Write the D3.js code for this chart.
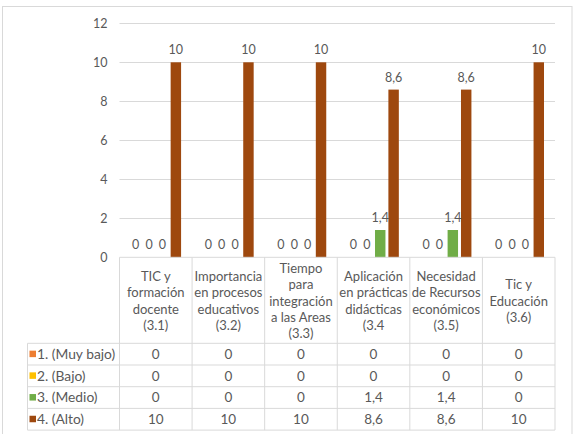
<!DOCTYPE html>
<html>
<head>
<meta charset="utf-8">
<script src="https://cdn.jsdelivr.net/npm/d3@7"></script>
<style>
  html, body { margin: 0; padding: 0; background: #fff; }
  svg { display: block; }
  text { font-family: Lato, "Open Sans", sans-serif; fill: #595959; }
</style>
</head>
<body>
<svg id="chart" width="576" height="434"></svg>
<script>
const categories = [
  "TIC y\nformación\ndocente\n(3.1)",
  "Importancia\nen procesos\neducativos\n(3.2)",
  "Tiempo\npara\nintegración\na las Areas\n(3.3)",
  "Aplicación\nen prácticas\ndidácticas\n(3.4",
  "Necesidad\nde Recursos\neconómicos\n(3.5)",
  "Tic y\nEducación\n(3.6)"
];
const seriesNames = ["1. (Muy bajo)", "2. (Bajo)", "3. (Medio)", "4. (Alto)"];
const muyBajo = [0, 0, 0, 0, 0, 0];
const bajo = [0, 0, 0, 0, 0, 0];
const medio = [0, 0, 0, 1.4, 1.4, 0];
const alto = [10, 10, 10, 8.6, 8.6, 10];
const yTicks = [0, 2, 4, 6, 8, 10, 12];
const colors = ["#ED7D31", "#FFC000", "#70AD47", "#9E480E"];

const seriesValues = [muyBajo, bajo, medio, alto];
const fmt = v => String(v).replace(".", ",");

const svg = d3.select("#chart");

// outer frame
svg.append("rect").attr("x", 2.5).attr("y", 6.5).attr("width", 569.5).attr("height", 440)
  .attr("fill", "none").attr("stroke", "#d9d9d9").attr("stroke-width", 1);

const plotL = 119.5, plotR = 555, plotT = 23.3, plotB = 257.3;
const tableL = 27.5;
const headerB = 343.3;
const rowH = 21.7;

const x0 = d3.scaleBand().domain(categories.map((c, i) => i)).range([plotL, plotR]).paddingInner(0).paddingOuter(0);
const groupPad = 11;
const x1 = d3.scaleBand().domain(seriesNames).range([groupPad, x0.bandwidth() - groupPad]).paddingInner(0.22).paddingOuter(0);
const y = d3.scaleLinear().domain([0, 12]).range([plotB, plotT]);

// gridlines
svg.append("g").selectAll("line").data(yTicks.filter(t => t > 0)).join("line")
  .attr("x1", plotL).attr("x2", plotR)
  .attr("y1", d => Math.round(y(d)) + 0.5).attr("y2", d => Math.round(y(d)) + 0.5)
  .attr("stroke", "#d9d9d9").attr("stroke-width", 1);

// y axis labels
const yAxis = d3.axisLeft(y).tickValues(yTicks).tickSize(0).tickPadding(12).tickFormat(d => d);
const yg = svg.append("g").attr("transform", `translate(${plotL},0)`).call(yAxis);
yg.select(".domain").remove();
yg.selectAll("text").style("font-size", "12.5px").attr("fill", "#595959")
  .style("font-family", "Lato, 'Open Sans', sans-serif");

// bars
const groups = svg.append("g").selectAll("g").data(categories.map((c, i) => i)).join("g")
  .attr("transform", i => `translate(${x0(i)},0)`);

groups.selectAll("rect").data(i => seriesNames.map((s, k) => ({ s, k, v: seriesValues[k][i] })))
  .join("rect")
  .attr("x", d => x1(d.s)).attr("width", x1.bandwidth())
  .attr("y", d => y(d.v)).attr("height", d => y(0) - y(d.v))
  .attr("fill", d => colors[d.k]);

groups.selectAll("text.lbl").data(i => seriesNames.map((s, k) => ({ s, k, v: seriesValues[k][i] })))
  .join("text").attr("class", "lbl")
  .attr("x", d => x1(d.s) + x1.bandwidth() / 2)
  .attr("y", d => y(d.v) - 8)
  .attr("text-anchor", "middle")
  .style("font-size", "12.5px")
  .text(d => fmt(d.v));

// table
const tbl = svg.append("g");
const lineColor = "#d9d9d9";
const rowsTop = headerB;
const tableB = rowsTop + rowH * seriesNames.length;

tbl.append("line").attr("x1", plotL).attr("x2", plotR).attr("y1", plotB).attr("y2", plotB)
  .attr("stroke", lineColor);
for (let r = 0; r <= seriesNames.length; r++) {
  const yy = rowsTop + r * rowH;
  tbl.append("line").attr("x1", tableL).attr("x2", plotR).attr("y1", yy).attr("y2", yy)
    .attr("stroke", lineColor);
}
tbl.append("line").attr("x1", tableL).attr("x2", tableL).attr("y1", rowsTop).attr("y2", tableB)
  .attr("stroke", lineColor);
const vx = categories.map((c, i) => x0(i)).concat([plotR]);
vx.forEach(xx => {
  tbl.append("line").attr("x1", xx).attr("x2", xx).attr("y1", plotB).attr("y2", tableB)
    .attr("stroke", lineColor);
});

// header text
const lineGap = 16.4;
const headerCenter = 301;
categories.forEach((c, i) => {
  const lines = c.split("\n");
  const t = tbl.append("text").attr("text-anchor", "middle").style("font-size", "13px");
  const startY = headerCenter - (lines.length - 1) * lineGap / 2;
  lines.forEach((ln, j) => {
    t.append("tspan").attr("x", x0(i) + x0.bandwidth() / 2).attr("y", startY + j * lineGap)
      .attr("dy", "0.35em").text(ln);
  });
});

// rows
seriesNames.forEach((s, k) => {
  const cy = rowsTop + k * rowH + rowH / 2;
  tbl.append("rect").attr("x", 29.5).attr("y", cy - 3.5).attr("width", 6.5).attr("height", 6.5)
    .attr("fill", colors[k]);
  tbl.append("text").attr("x", 37).attr("y", cy).attr("dy", "0.35em")
    .style("font-size", "13.8px").text(s);
  seriesValues[k].forEach((v, i) => {
    tbl.append("text").attr("x", x0(i) + x0.bandwidth() / 2).attr("y", cy).attr("dy", "0.35em")
      .attr("text-anchor", "middle").style("font-size", "13.5px").text(fmt(v));
  });
});
</script>
</body>
</html>
